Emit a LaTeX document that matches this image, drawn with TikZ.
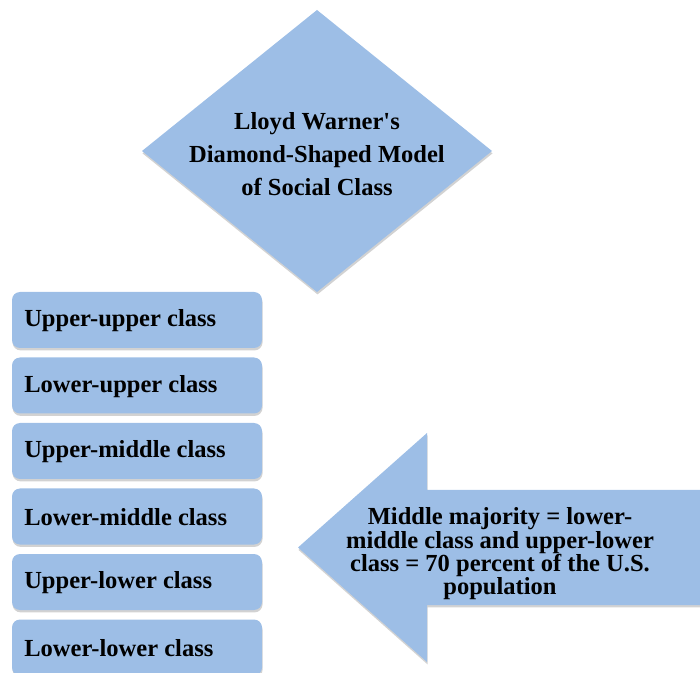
\documentclass[tikz,border=0pt]{standalone}
\usepackage{fontspec}
\setmainfont{Liberation Serif}
\usetikzlibrary{shadows}
\definecolor{fillblue}{RGB}{157,190,230}
\begin{document}
\begin{tikzpicture}[x=0.75pt,y=-0.75pt,
  shapeshadow/.style={drop shadow={shadow xshift=0.4pt,shadow yshift=-1.8pt,opacity=0.25,fill=black!70}},
  classbox/.style={fill=fillblue,rounded corners=6pt,shapeshadow},
  classtext/.style={anchor=west,font=\fontsize{18.4}{22}\selectfont\bfseries,inner sep=0pt},
  bigtext/.style={align=center,font=\fontsize{18.4}{25}\selectfont\bfseries,inner sep=0pt}]
\useasboundingbox (0,0) rectangle (700,673);
% diamond
\path[fill=fillblue,shapeshadow] (317,10) -- (492,151) -- (317,292) -- (142,151) -- cycle;
\node[bigtext] (title) at (317,154) {Lloyd Warner\textquotesingle s\\Diamond-Shaped Model\\of Social Class};
% boxes
\foreach \y/\t/\n in {292/Upper-upper class/b1,357.5/Lower-upper class/b2,423/Upper-middle class/b3,488.5/Lower-middle class/b4,554/Upper-lower class/b5,619.5/Lower-lower class/b6}{
  \path[classbox] (12,\y) rectangle (262,\y+56);
  \node[classtext] (\n) at (24,\y+29) {\t};
}
% arrow
\path[fill=fillblue,shapeshadow] (702,490) -- (427,490) -- (427,433) -- (298,547.5) -- (427,662) -- (427,605) -- (702,605) -- cycle;
\node[align=center,font=\fontsize{18.4}{17.5}\selectfont\bfseries,inner sep=0pt] (note) at (500,554) {Middle majority = lower-\\middle class and upper-lower\\class = 70 percent of the U.S.\\population};
\end{tikzpicture}
\end{document}
